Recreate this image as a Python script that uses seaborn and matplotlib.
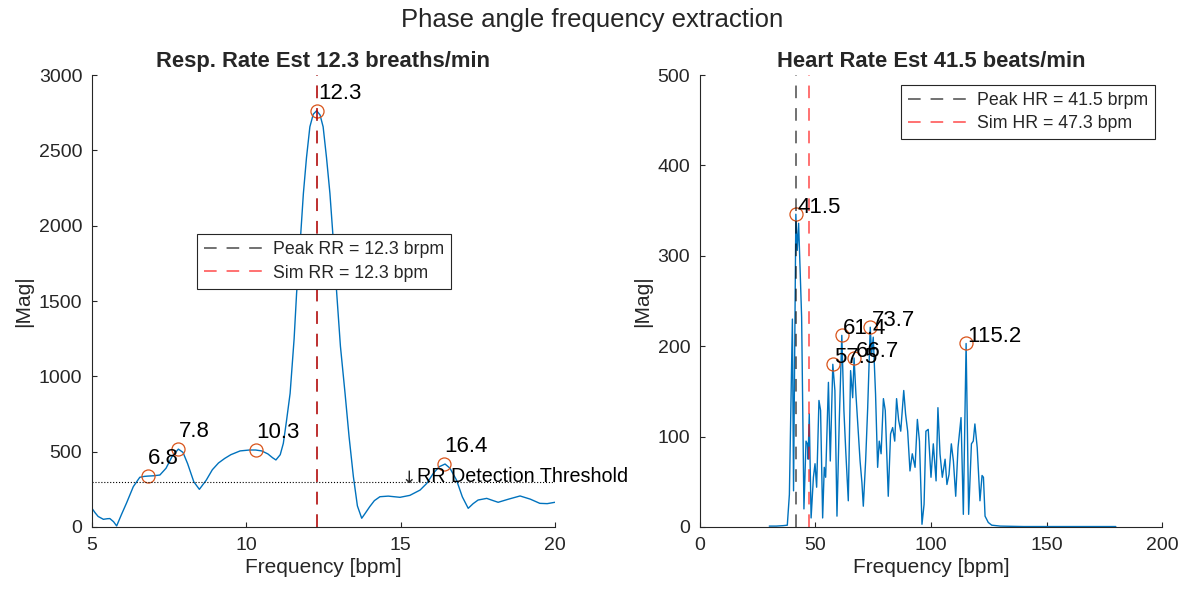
import matplotlib
matplotlib.use("Agg")
import matplotlib.pyplot as plt
import seaborn as sns
import pandas as pd

# ---------------- data: respiration spectrum ----------------
rr_freq = [5.0, 5.1, 5.2, 5.37, 5.5, 5.58, 5.7, 5.8, 5.95, 6.12,
           6.34, 6.55, 6.7, 6.82, 7.0, 7.2, 7.4, 7.6, 7.8, 7.95,
           8.1, 8.3, 8.48, 8.7, 8.9, 9.1, 9.3, 9.5, 9.8, 10.1,
           10.3, 10.5, 10.7, 10.85, 10.96, 11.1, 11.2, 11.3, 11.42, 11.55,
           11.63, 11.75, 11.85, 11.95, 12.06, 12.17, 12.28, 12.39, 12.49, 12.6,
           12.71, 12.82, 12.93, 13.05, 13.2, 13.33, 13.47, 13.6, 13.74, 13.85,
           14.0, 14.15, 14.33, 14.6, 14.98, 15.3, 15.63, 15.85, 16.06, 16.25,
           16.44, 16.6, 16.81, 17.0, 17.19, 17.35, 17.51, 17.79, 18.0, 18.16,
           18.5, 18.87, 19.2, 19.51, 19.75, 20.0]
rr_mag = [124, 95, 70, 51, 55, 56, 35, 7, 80, 159,
          268, 330, 336, 338, 340, 345, 390, 470, 517, 495,
          420, 300, 250, 310, 380, 425, 455, 480, 505, 511,
          511, 505, 485, 460, 445, 480, 555, 700, 887, 1250,
          1551, 1900, 2214, 2450, 2656, 2740, 2763, 2735, 2656, 2450,
          2214, 1900, 1551, 1200, 887, 600, 334, 140, 58, 90,
          135, 175, 201, 205, 197, 210, 245, 290, 356, 400,
          418, 390, 312, 200, 124, 155, 179, 190, 175, 164,
          185, 206, 185, 157, 155, 164]
rr_peak_freq = [6.8, 7.8, 10.3, 12.3, 16.4]
rr_peak_mag = [338, 517, 511, 2763, 418]
rr_peak_labels = ["6.8", "7.8", "10.3", "12.3", "16.4"]
rr_threshold = 300
rr_threshold_label_x = 15
rr_peak_est = 12.3
rr_sim = 12.3

# ---------------- data: heart-rate spectrum ----------------
hr_freq = [30, 33, 36, 37.8, 38.7, 40.0, 40.5, 41.5, 42.1, 42.7,
           44.0, 45.0, 45.9, 46.5, 46.8, 47.3, 48.1, 49.1, 49.8, 50.5,
           51.5, 52.2, 53.1, 53.8, 54.4, 55.6, 56.4, 57.5, 58.4, 59.3,
           60.3, 61.4, 62.3, 63.1, 64.2, 65.2, 66.1, 66.7, 67.5, 68.4,
           69.3, 70.1, 70.7, 71.7, 72.6, 73.7, 74.3, 75.0, 76.0, 76.9,
           77.6, 78.4, 79.4, 80.2, 81.5, 82.5, 83.4, 84.3, 85.1, 86.0,
           86.9, 88.2, 89.0, 89.9, 90.9, 91.9, 93.1, 94.1, 95.0, 96.1,
           97.0, 97.8, 98.8, 100.0, 101.0, 102.2, 103.0, 103.9, 104.9, 106.1,
           106.9, 107.8, 108.8, 109.7, 110.7, 111.7, 113.0, 114.0, 115.2, 116.3,
           117.5, 118.3, 119.0, 120.0, 121.2, 122.1, 122.7, 123.4, 124.8, 126.3,
           130, 140, 150, 160, 170, 180]
hr_mag = [1, 1, 1.5, 2, 36, 230, 40, 346, 306, 336,
          232, 20, 95, 92, 75, 125, 10, 55, 70, 44,
          140, 129, 10, 66, 55, 160, 73, 180, 151, 12,
          118, 212, 129, 84, 29, 173, 143, 187, 147, 110,
          73, 49, 23, 73, 132, 221, 191, 210, 147, 66,
          95, 81, 142, 129, 34, 103, 110, 95, 142, 118,
          106, 151, 125, 106, 62, 81, 66, 119, 95, 3,
          25, 106, 108, 55, 92, 51, 132, 81, 55, 75,
          47, 58, 92, 73, 34, 88, 121, 14, 203, 14,
          92, 95, 114, 88, 29, 57, 55, 12, 5, 2,
          1, 0.5, 0.5, 0.5, 0.5, 0.5]
hr_peak_freq = [41.5, 57.5, 61.4, 66.7, 73.7, 115.2]
hr_peak_mag = [346, 180, 212, 187, 221, 203]
hr_peak_labels = ["41.5", "57.5", "61.4", "66.7", "73.7", "115.2"]
hr_peak_est = 41.5
hr_sim = 47.3

# ---------------- style ----------------
sns.set_style("ticks")
plt.rcParams["font.family"] = ["Liberation Sans", "DejaVu Sans"]

BLUE = "#0072BD"
ORANGE = "#D95319"
AXC = "#262626"
DASH = (7, 5.5)

fig = plt.figure(figsize=(11.85, 5.93), dpi=100)
ax1 = fig.add_axes([0.0776, 0.1113, 0.3907, 0.7622])
ax2 = fig.add_axes([0.5907, 0.1113, 0.3899, 0.7622])


def style_axes(ax):
    sns.despine(ax=ax)
    for s in ("left", "bottom"):
        ax.spines[s].set_color(AXC)
        ax.spines[s].set_linewidth(0.8)
    ax.tick_params(direction="in", length=3.6, width=0.8, colors=AXC,
                   labelsize=14, pad=7)
    ax.set_xlabel("Frequency [bpm]", fontsize=15, color=AXC, labelpad=3)
    ax.set_ylabel("|Mag|", fontsize=15, color=AXC, labelpad=4)


def add_legend(ax, handles, **kw):
    leg = ax.legend(handles=handles, borderaxespad=0, fancybox=False,
                    edgecolor=AXC, framealpha=1, fontsize=12.8,
                    handlelength=3.6, handletextpad=0.3,
                    labelspacing=0.35, borderpad=0.4, **kw)
    leg.get_frame().set_linewidth(0.8)
    return leg


# ---------------- left panel ----------------
rr_df = pd.DataFrame({"freq": rr_freq, "mag": rr_mag})
sns.lineplot(data=rr_df, x="freq", y="mag", ax=ax1, color=BLUE,
             linewidth=1.0, estimator=None, sort=False)
ax1.plot(rr_peak_freq, rr_peak_mag, "o", mfc="none", mec=ORANGE,
         ms=9.4, mew=0.9)
for f, m, t in zip(rr_peak_freq, rr_peak_mag, rr_peak_labels):
    ax1.annotate(t, (f, m), xytext=(0.5, 12.5), textcoords="offset points",
                 ha="left", va="center", fontsize=16, color="black")
ax1.axhline(rr_threshold, color="black", ls=":", lw=0.8)
ax1.annotate("\u2193", (rr_threshold_label_x, rr_threshold),
             xytext=(0.3, 3), textcoords="offset points", ha="left",
             va="center", fontsize=12.5, color=AXC, family="DejaVu Sans",
             annotation_clip=False)
ax1.annotate("RR Detection Threshold", (rr_threshold_label_x, rr_threshold),
             xytext=(11.5, 4), textcoords="offset points", ha="left",
             va="center", fontsize=14.2, color="black",
             annotation_clip=False)
l1 = ax1.axvline(rr_peak_est, color="black", alpha=0.6, lw=1.3,
                 dashes=DASH, label=f"Peak RR = {rr_peak_est} brpm")
l2 = ax1.axvline(rr_sim, color="red", alpha=0.6, lw=1.3,
                 dashes=DASH, label=f"Sim RR = {rr_sim} bpm")
ax1.set_xlim(5, 20)
ax1.set_ylim(0, 3000)
ax1.set_xticks([5, 10, 15, 20])
ax1.set_yticks([0, 500, 1000, 1500, 2000, 2500, 3000])
style_axes(ax1)
ax1.set_title(f"Resp. Rate Est {rr_peak_est} breaths/min",
              fontsize=15.8, fontweight="bold", pad=6)
add_legend(ax1, [l1, l2], loc="upper left", bbox_to_anchor=(0.226, 0.6476))

# ---------------- right panel ----------------
hr_df = pd.DataFrame({"freq": hr_freq, "mag": hr_mag})
sns.lineplot(data=hr_df, x="freq", y="mag", ax=ax2, color=BLUE,
             linewidth=1.0, estimator=None, sort=False)
ax2.plot(hr_peak_freq, hr_peak_mag, "o", mfc="none", mec=ORANGE,
         ms=9.4, mew=0.9)
for f, m, t in zip(hr_peak_freq, hr_peak_mag, hr_peak_labels):
    ax2.annotate(t, (f, m), xytext=(1, 5), textcoords="offset points",
                 ha="left", va="center", fontsize=16, color="black")
r1 = ax2.axvline(hr_peak_est, color="black", alpha=0.6, lw=1.3,
                 dashes=DASH, label=f"Peak HR = {hr_peak_est} brpm")
r2 = ax2.axvline(hr_sim, color="red", alpha=0.6, lw=1.3,
                 dashes=DASH, label=f"Sim HR = {hr_sim} bpm")
ax2.set_xlim(0, 200)
ax2.set_ylim(0, 500)
ax2.set_xticks([0, 50, 100, 150, 200])
ax2.set_yticks([0, 100, 200, 300, 400, 500])
style_axes(ax2)
ax2.set_title(f"Heart Rate Est {hr_peak_est} beats/min",
              fontsize=15.8, fontweight="bold", pad=6)
add_legend(ax2, [r1, r2], loc="upper right", bbox_to_anchor=(0.9855, 0.978))

fig.suptitle("Phase angle frequency extraction", fontsize=18.5,
             y=0.967, va="center")

fig.savefig("out.png", dpi=100, facecolor="white")
